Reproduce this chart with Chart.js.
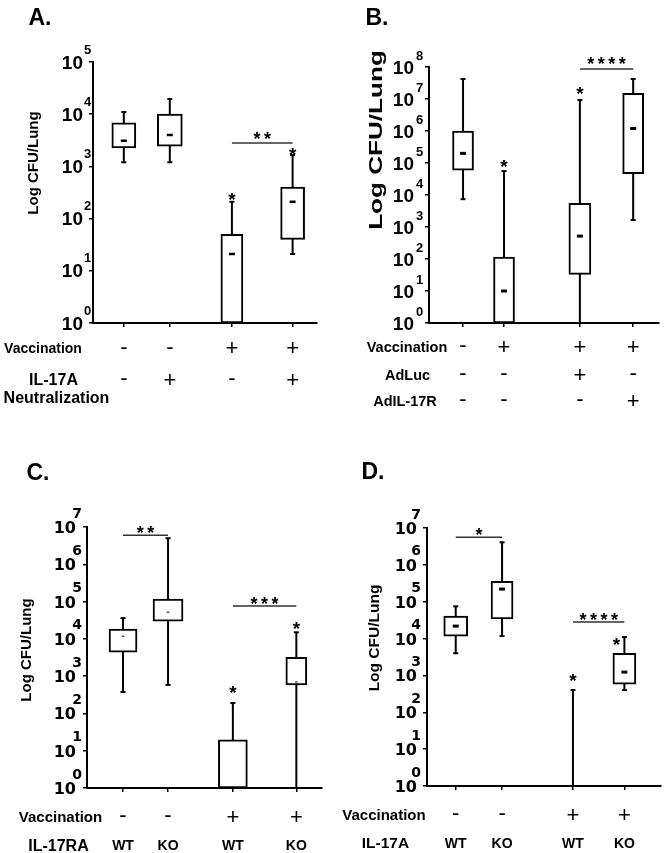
<!DOCTYPE html>
<html>
<head>
<meta charset="utf-8">
<script src="https://cdn.jsdelivr.net/npm/chart.js@4"></script>
<style>
  html, body { margin: 0; padding: 0; background: #fff; }
  #wrap { position: relative; width: 668px; height: 853px; }
  canvas { position: absolute; }
</style>
</head>
<body>
<div id="wrap">
  <canvas id="pa" width="334" height="420" style="left:0;top:0"></canvas>
  <canvas id="pb" width="334" height="420" style="left:334px;top:0"></canvas>
  <canvas id="pc" width="334" height="433" style="left:0;top:420px"></canvas>
  <canvas id="pd" width="334" height="433" style="left:334px;top:420px"></canvas>
</div>
<script>
// A. IL-17A neutralization
const aVaccination = ['-', '-', '+', '+']
const aNeutralization = ['-', '+', '-', '+']
const aMin = [1200, 1200, null, 21]
const aQ1 = [2250, 2450, 1, 40]
const aMedian = [3100, 4000, 21, 210]
const aQ3 = [6800, 10000, 50, 400]
const aMax = [11000, 19500, 210, 1650]
const aStar = [null, null, 260, 1900]
const aSig = [[2, 3, 2800, '**']]

// B. AdLuc / AdIL-17R
const bVaccination = ['-', '+', '+', '+']
const bAdLuc = ['-', '-', '+', '-']
const bAdIL17R = ['-', '-', '-', '+']
const bMin = [7400, null, 1, 1650]
const bQ1 = [60000, 1, 33, 46000]
const bMedian = [200000, 10, 520, 1200000]
const bQ3 = [1000000, 115, 5500, 15000000]
const bMax = [42000000, 56000, 9300000, 42000000]
const bStar = [null, 100000, 19000000, null]
const bSig = [[2, 3, 87000000, '****']]

// C. IL-17RA WT / KO
const cVaccination = ['-', '-', '+', '+']
const cGenotype = ['WT', 'KO', 'WT', 'KO']
const cMin = [375, 580, null, 1]
const cQ1 = [4400, 30000, 1, 580]
const cMedian = [11800, 52000, 1, 700]
const cQ3 = [18300, 117000, 19.5, 3200]
const cMax = [36000, 5000000, 190, 15000]
const cStar = [null, null, 425, 23000]
const cSig = [[0, 1, 6000000, '**'], [2, 3, 76000, '***']]

// D. IL-17A WT / KO
const dVaccination = ['-', '-', '+', '+']
const dGenotype = ['WT', 'KO', 'WT', 'KO']
const dMin = [4000, 11700, 1, 400]
const dQ1 = [11700, 34000, null, 580]
const dMedian = [21800, 220000, null, 1230]
const dQ3 = [40500, 360000, null, 4000]
const dMax = [75000, 4100000, 400, 11000]
const dStar = [null, null, 900, 8500]
const dSig = [[0, 1, 5600000, '*'], [2, 3, 28000, '****']]

const SANS = '"Liberation Sans", Arial, sans-serif'
const DEJA = '"DejaVu Sans", sans-serif'

function centerText(ctx, text, x, y) {
  const m = ctx.measureText(text)
  ctx.textBaseline = 'alphabetic'
  ctx.fillText(text, x, y + (m.actualBoundingBoxAscent - m.actualBoundingBoxDescent) / 2)
}

function boxChart(id, d, L) {
  const n = d.q1.length
  const sx = L.slots
  const datasets = []

  // whiskers (drawn first, the white boxes cover the middle)
  const whisk = []
  for (let i = 0; i < n; i++) {
    const lo = d.min[i] ?? d.q1[i]
    const hi = d.max[i] ?? d.q3[i]
    whisk.push({ x: sx[i], y: lo }, { x: sx[i], y: hi }, { x: sx[i], y: null })
  }
  datasets.push({ type: 'line', data: whisk, borderColor: '#000', borderWidth: 2,
    pointRadius: 0, spanGaps: false, order: 6, clip: false })

  // boxes
  for (let i = 0; i < n; i++) {
    if (d.q1[i] == null) continue
    datasets.push({ type: 'bar', data: [{ x: sx[i], y: [d.q1[i], d.q3[i]] }],
      barThickness: L.widths[i], grouped: false, backgroundColor: '#fff',
      borderColor: '#000', borderWidth: 2, borderSkipped: false, order: 4, clip: false })
  }

  // whisker caps
  const caps = []
  for (let i = 0; i < n; i++) {
    if (d.min[i] != null) caps.push({ x: sx[i], y: d.min[i] })
    if (d.max[i] != null) caps.push({ x: sx[i], y: d.max[i] })
  }
  datasets.push({ type: 'line', showLine: false, data: caps, pointStyle: 'line',
    pointRadius: 2.5, pointBorderWidth: 2, pointBorderColor: '#000', order: 2, clip: false })

  // medians
  const meds = []
  for (let i = 0; i < n; i++) if (d.median[i] != null) meds.push({ x: sx[i], y: d.median[i] })
  datasets.push({ type: 'line', showLine: false, data: meds, pointStyle: 'line',
    pointRadius: L.med[0], pointBorderWidth: L.med[1], pointBorderColor: '#000', order: 1, clip: false })

  // significance brackets
  const sig = []
  d.sig.forEach(s => {
    sig.push({ x: sx[s[0]], y: s[2] }, { x: sx[s[1]], y: s[2] }, { x: sx[s[1]], y: null })
  })
  datasets.push({ type: 'line', data: sig, borderColor: '#333', borderWidth: 1.5,
    pointRadius: 0, spanGaps: false, order: 3, clip: false })

  const deco = {
    id: 'deco',
    afterDraw(chart) {
      const ctx = chart.ctx
      const xs = chart.scales.x, ys = chart.scales.y
      const left = chart.chartArea.left
      ctx.save()
      ctx.fillStyle = '#000'

      // y tick labels 10^n
      ys.ticks.forEach(t => {
        const y = ys.getPixelForValue(t.value)
        const e = Math.round(Math.log10(t.value))
        const xr = left - L.tenGap
        ctx.font = L.tenFont
        ctx.textAlign = 'right'
        centerText(ctx, '10', xr, y)
        ctx.font = L.expFont
        ctx.textAlign = L.expAlign
        centerText(ctx, String(e), xr + L.expDx, y - L.expDy)
      })

      // axis title
      ctx.save()
      ctx.font = 'bold ' + L.yTitle[3] + 'px ' + SANS
      ctx.textAlign = 'center'
      ctx.translate(L.yTitle[1], L.yTitle[2])
      ctx.rotate(-Math.PI / 2)
      ctx.scale(L.yTitle[4] || 1, 1)
      centerText(ctx, L.yTitle[0], 0, 0)
      ctx.restore()

      // panel letter
      ctx.font = 'bold 23px ' + SANS
      ctx.textAlign = 'center'
      centerText(ctx, L.title[0], L.title[1], L.title[2])

      // stars over single groups
      ctx.font = 'bold 19px ' + SANS
      d.star.forEach((v, i) => {
        if (v == null) return
        centerText(ctx, '*', xs.getPixelForValue(sx[i]) + L.starShift[i], ys.getPixelForValue(v))
      })

      // stars over brackets
      ctx.font = 'bold 18px ' + SANS
      d.sig.forEach(s => {
        const xm = (xs.getPixelForValue(sx[s[0]]) + xs.getPixelForValue(sx[s[1]])) / 2
        const y = ys.getPixelForValue(s[2]) - L.sigGap
        const k = s[3].length
        for (let j = 0; j < k; j++) centerText(ctx, '*', xm + (j - (k - 1) / 2) * 10.5, y)
      })

      // treatment table under the axis
      L.rows.forEach(r => {
        r.labels.forEach(l => {
          ctx.font = 'bold ' + l[3] + 'px ' + SANS
          ctx.textAlign = 'center'
          centerText(ctx, l[0], l[1], l[2])
        })
        r.marks.forEach((m, i) => {
          const x = xs.getPixelForValue(sx[i])
          if (m === '+' || m === '-') ctx.font = '22px ' + SANS
          else ctx.font = 'bold 14px ' + SANS
          ctx.textAlign = 'center'
          centerText(ctx, m, x, r.y)
        })
      })
      ctx.restore()
    }
  }

  return new Chart(document.getElementById(id), {
    type: 'bar',
    data: { datasets },
    options: {
      responsive: false,
      animation: false,
      devicePixelRatio: 1,
      events: [],
      layout: { padding: L.pad },
      plugins: { legend: { display: false }, tooltip: { enabled: false } },
      scales: {
        x: {
          type: 'linear', min: L.xmin, max: L.xmax, offset: false,
          afterBuildTicks: s => { s.ticks = sx.map(v => ({ value: v })) },
          afterFit: s => { s.height = 0 },
          ticks: { display: false },
          grid: { offset: false, drawOnChartArea: false, tickLength: 4, color: '#000', lineWidth: 1.5 },
          border: { color: '#000', width: 2 }
        },
        y: {
          type: 'logarithmic', min: 1, max: L.max,
          afterBuildTicks: s => {
            s.ticks = []
            for (let e = 0; Math.pow(10, e) <= L.max; e++) s.ticks.push({ value: Math.pow(10, e) })
          },
          afterFit: s => { s.width = 0 },
          ticks: { display: false },
          grid: { drawOnChartArea: false, tickLength: 4, color: '#000', lineWidth: 1.5 },
          border: { color: '#000', width: 2 }
        }
      }
    },
    plugins: [deco]
  })
}

boxChart('pa',
  { min: aMin, q1: aQ1, median: aMedian, q3: aQ3, max: aMax, star: aStar, sig: aSig },
  {
    max: 1e5, slots: [1, 2, 3.35, 4.67], xmin: 0.33, xmax: 5.2,
    pad: { left: 93, top: 62, right: 17, bottom: 97 },
    widths: [24, 25, 22, 24], med: [3, 2.5],
    tenFont: 'bold 19px ' + SANS, expFont: 'bold 13px ' + SANS,
    tenGap: 10, expAlign: 'left', expDx: 1, expDy: 13,
    title: ['A.', 40, 16], yTitle: ['Log CFU/Lung', 34, 163, 15],
    sigGap: 8, starShift: [0, 0, 0, 0],
    rows: [
      { y: 347.5, marks: aVaccination, labels: [['Vaccination', 43, 347.5, 14]] },
      { y: 379, marks: aNeutralization, labels: [['IL-17A', 53.5, 379, 16], ['Neutralization', 56.5, 397, 16]] }
    ]
  })

boxChart('pb',
  { min: bMin, q1: bQ1, median: bMedian, q3: bQ3, max: bMax, star: bStar, sig: bSig },
  {
    max: 1e8, slots: [1, 2, 3.85, 5.15], xmin: 0.17, xmax: 5.78,
    pad: { left: 95, top: 67, right: 9, bottom: 97 },
    widths: [21, 21, 22, 21], med: [3, 3],
    tenFont: 'bold 19px ' + SANS, expFont: 'bold 13px ' + SANS,
    tenGap: 15, expAlign: 'left', expDx: 2, expDy: 12,
    title: ['B.', 43, 16], yTitle: ['Log CFU/Lung', 43, 140, 18, 1.45],
    sigGap: 8, starShift: [0, 0, 0, 0],
    rows: [
      { y: 346, marks: bVaccination, labels: [['Vaccination', 73, 346, 14.5]] },
      { y: 374, marks: bAdLuc, labels: [['AdLuc', 73.5, 374, 14.5]] },
      { y: 400, marks: bAdIL17R, labels: [['AdIL-17R', 71, 400, 14.5]] }
    ]
  })

boxChart('pc',
  { min: cMin, q1: cQ1, median: cMedian, q3: cQ3, max: cMax, star: cStar, sig: cSig },
  {
    max: 1e7, slots: [1, 2, 3.44, 4.85], xmin: 0.2, xmax: 5.42,
    pad: { left: 87, top: 107, right: 12, bottom: 65 },
    widths: [28, 30, 29, 21], med: [1.3, 1],
    tenFont: 'bold 16px ' + DEJA, expFont: 'bold 14px ' + DEJA,
    tenGap: 11, expAlign: 'center', expDx: 1, expDy: 14.5,
    title: ['C.', 38, 51], yTitle: ['Log CFU/Lung', 27, 230, 15],
    sigGap: 6, starShift: [0, 0, 0, 0],
    rows: [
      { y: 396, marks: cVaccination, labels: [['Vaccination', 60.5, 396, 15]] },
      { y: 425, marks: cGenotype, labels: [['IL-17RA', 58.5, 425, 16]] }
    ]
  })

boxChart('pd',
  { min: dMin, q1: dQ1, median: dMedian, q3: dQ3, max: dMax, star: dStar, sig: dSig },
  {
    max: 1e7, slots: [1, 2, 3.53, 4.64], xmin: 0.38, xmax: 5.43,
    pad: { left: 93, top: 108, right: 4, bottom: 67 },
    widths: [24, 22, 0, 23], med: [3, 3],
    tenFont: 'bold 16px ' + DEJA, expFont: 'bold 14px ' + DEJA,
    tenGap: 10, expAlign: 'center', expDx: -1, expDy: 14.5,
    title: ['D.', 39, 50], yTitle: ['Log CFU/Lung', 41, 218, 15.5],
    sigGap: 6, starShift: [0, 0, 0, -8],
    rows: [
      { y: 394, marks: dVaccination, labels: [['Vaccination', 50, 394, 15]] },
      { y: 423, marks: dGenotype, labels: [['IL-17A', 51.5, 423, 15.5]] }
    ]
  })
</script>
</body>
</html>
